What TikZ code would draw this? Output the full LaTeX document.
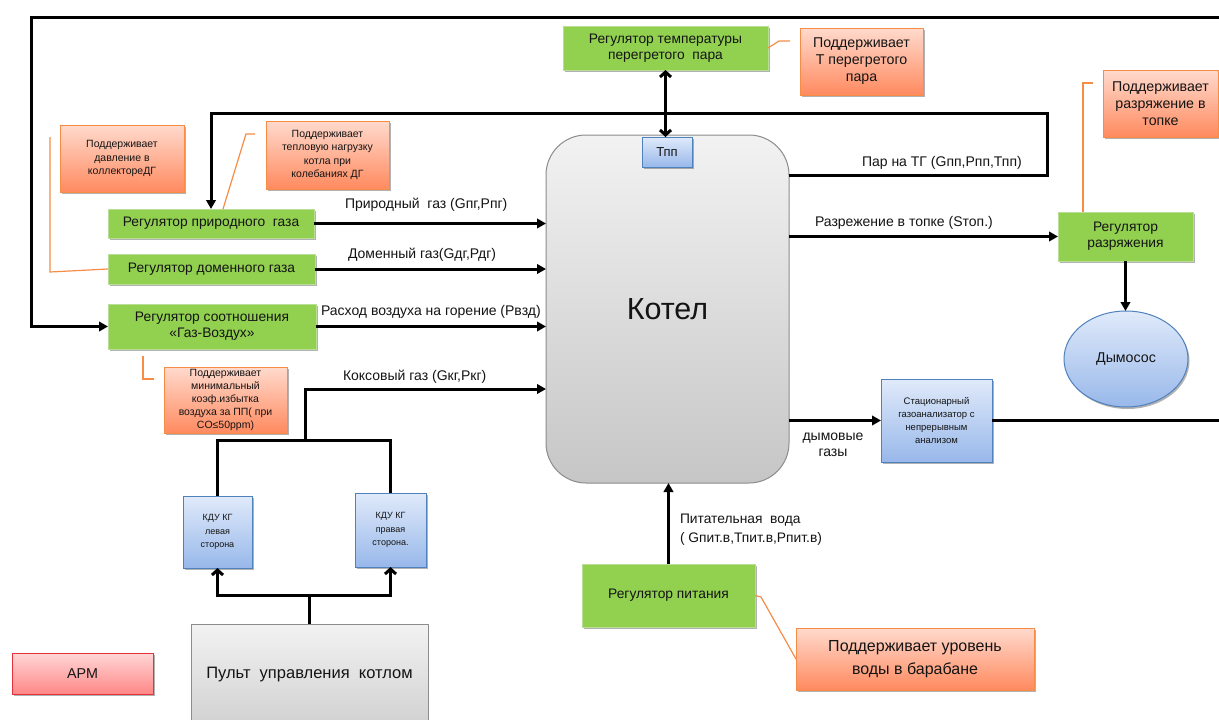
\documentclass[tikz,border=0pt]{standalone}
\usepackage{fontspec}
\setmainfont{Liberation Sans}
\usetikzlibrary{arrows.meta,shadows,shapes.geometric,calc}
\definecolor{grn}{RGB}{146,208,80}
\definecolor{grnb}{RGB}{185,222,150}
\definecolor{orb}{RGB}{247,140,70}
\definecolor{ortop}{RGB}{255,218,205}
\definecolor{orbot}{RGB}{255,138,95}
\definecolor{blb}{RGB}{79,129,189}
\definecolor{bltop}{RGB}{224,234,250}
\definecolor{blbot}{RGB}{152,184,234}
\definecolor{gytop}{RGB}{242,242,242}
\definecolor{gybot}{RGB}{198,198,198}
\definecolor{gyb}{RGB}{140,140,140}
\definecolor{rdb}{RGB}{228,50,60}
\definecolor{rdtop}{RGB}{255,214,214}
\definecolor{rdbot}{RGB}{255,135,135}
\definecolor{txt}{RGB}{20,20,20}
\begin{document}
\begin{tikzpicture}[x=1pt,y=-1pt,
  every node/.style={inner sep=0pt,outer sep=0pt,align=center,text=txt},
  sz/.style n args={2}{minimum width=#1pt,minimum height=#2pt},
  shd/.style={drop shadow={shadow xshift=1.5pt,shadow yshift=-2pt,opacity=0.3,fill=black}},
  greenbox/.style={fill=grn,draw=grnb,line width=0.7pt,shd,font=\fontsize{13.8}{16}\selectfont},
  callout/.style={draw=orb,line width=1pt,top color=ortop,bottom color=orbot,shd},
  bluebox/.style={draw=blb,line width=0.9pt,top color=bltop,bottom color=blbot,shd},
  flow/.style={line width=3pt,-{Triangle[length=9pt,width=9.5pt]}},
  wire/.style={line width=3pt},
  barb/.style={line width=3pt,-{Straight Barb[length=5pt,width=11pt]}},
  dbl/.style={line width=3pt,{Straight Barb[length=5pt,width=11pt]}-{Straight Barb[length=5pt,width=11pt]}},
  ocon/.style={draw=orb,line width=1.2pt},
  lbl/.style={font=\fontsize{14}{16}\selectfont,anchor=west}
]
\useasboundingbox[fill=white] (0,0) rectangle (1219,720);

% ---- boiler ----
\node[draw=gyb,line width=1pt,top color=gytop,bottom color=gybot,rounded corners=40pt,sz={243}{348},font=\fontsize{30.5}{36}\selectfont] (boiler) at (667.5,309) {Котел};
\node[bluebox,sz={50}{30},font=\fontsize{13}{15}\selectfont] (tpp) at (667,152) {Тпп};

% ---- regulators ----
\node[greenbox,sz={205}{44}] (tempreg) at (665.5,48) {Регулятор температуры\\перегретого\ \ пара};
\node[greenbox,sz={206}{29}] (ng) at (211,223.5) {Регулятор природного\ \ газа};
\node[greenbox,sz={207}{30}] (dg) at (211.5,269) {Регулятор доменного газа};
\node[greenbox,sz={208}{45}] (ga) at (212,326.5) {Регулятор соотношения\\«Газ-Воздух»};
\node[greenbox,sz={135}{49}] (razr) at (1125.5,236.5) {Регулятор\\разряжения};
\node[greenbox,sz={173}{63}] (pit) at (668.5,595.5) {Регулятор питания};

% ---- callouts ----
\node[callout,sz={123}{67},font=\fontsize{14.2}{17}\selectfont] (tempcall) at (861.5,61.5) {Поддерживает\\Т перегретого\\пара};
\node[callout,sz={124}{67},font=\fontsize{10.5}{13.5}\selectfont] (call1) at (122,158.5) {Поддерживает\\давление в\\коллектореДГ};
\node[callout,sz={123}{68},font=\fontsize{10.5}{13.5}\selectfont] (call2) at (327.5,155) {Поддерживает\\тепловую нагрузку\\котла при\\колебаниях ДГ};
\node[callout,sz={123}{66},font=\fontsize{10.5}{13}\selectfont] (call3) at (225.5,400) {Поддерживает\\минимальный\\коэф.избытка\\воздуха за ПП( при\\CO≤50ppm)};
\node[callout,sz={115}{67},font=\fontsize{14.2}{17}\selectfont] (callr) at (1160.5,103.5) {Поддерживает\\разряжение в\\топке};
\node[callout,sz={238}{62},font=\fontsize{16}{23}\selectfont] (pitcall) at (915,659) {Поддерживает уровень\\воды в барабане};

% ---- others ----
\node[draw=blb,line width=1pt,top color=bltop,bottom color=blbot,ellipse,sz={124}{96},shd,font=\fontsize{14.2}{16}\selectfont] (dym) at (1126,359) {Дымосос};
\node[bluebox,sz={111}{83},font=\fontsize{9.5}{12.7}\selectfont] (gasan) at (936.5,420.5) {Стационарный\\газоанализатор с\\непрерывным\\анализом};
\node[bluebox,sz={69}{72},font=\fontsize{9}{13.5}\selectfont] (kdul) at (217.5,532) {КДУ КГ\\левая\\сторона};
\node[bluebox,sz={71}{74},font=\fontsize{9}{13.5}\selectfont] (kdur) at (390.5,530) {КДУ КГ\\правая\\сторона.};
\node[draw=gyb,line width=0.8pt,top color=gytop,bottom color=gybot!80!white,sz={237}{101},font=\fontsize{16.5}{20}\selectfont] (pult) at (309.5,674.5) {Пульт\ \ управления\ \ котлом};
\node[draw=rdb,line width=1pt,top color=rdtop,bottom color=rdbot,sz={141}{41},shd,font=\fontsize{14.3}{17}\selectfont] (arm) at (82.5,673.5) {АРМ};

% ---- helper coordinates ----
\coordinate (rtop) at (1219,17);
\coordinate (tl) at (31,17);
\coordinate (y175) at (1047,175);
\coordinate (y113) at (1047,113);
\coordinate (kj) at (305,440);
\coordinate (ky) at (305,389);
\coordinate (pj) at (310,595);
\coordinate (rout) at (1219,420.5);

% ---- connectors ----
\draw[flow] (rtop) -- (tl) |- (ga.west);
\draw[flow] (boiler.east |- y175) -- (y175) -- (y113) -| (ng.north);
\draw[dbl] (tempreg.south) -- (tempreg.south |- tpp.north);
\draw[flow] (ng.east) -- (ng.east -| boiler.west);
\draw[flow] (dg.east) -- (dg.east -| boiler.west);
\draw[flow] (ga.east) -- (ga.east -| boiler.west);
\draw[wire] (kdul.north) |- (kj) -| (kdur.north);
\draw[flow] (kj) -- (ky) -- (ky -| boiler.west);
\draw[wire] (pult.north) -- (pult.north |- pj);
\draw[barb] (pj) -| (kdul.south);
\draw[barb] (pj) -| (kdur.south);
\draw[flow] (boiler.east |- razr.west) -- (razr.west);
\draw[flow] (razr.south) -- (razr.south |- dym.north);
\draw[flow] (boiler.east |- gasan.west) -- (gasan.west);
\draw[wire] (gasan.east) -- (rout);
\draw[flow] (pit.north) -- (pit.north |- boiler.south);

% ---- callout leaders ----
\coordinate (o1a) at (779,41); \coordinate (o1b) at (790,41);
\draw[ocon] (tempreg.east) -- (o1a) -- (o1b);
\coordinate (o2a) at (50,272); \coordinate (o2b) at (50,137);
\draw[ocon] (dg.west) -- (o2a) -- (o2b);
\coordinate (o3s) at (223,209); \coordinate (o3a) at (246,134); \coordinate (o3b) at (255,134);
\draw[ocon] (o3s) -- (o3a) -- (o3b);
\coordinate (o4a) at (143,356); \coordinate (o4b) at (143,379); \coordinate (o4c) at (154,379);
\draw[ocon] (o4a) -- (o4b) -- (o4c);
\coordinate (o5a) at (1083,83); \coordinate (o5b) at (1093,83);
\draw[ocon] (razr.north -| o5a) -- (o5a) -- (o5b);
\coordinate (o6a) at (761,597);
\draw[ocon] (pit.east) -- (o6a) -- (pitcall.west);

% ---- flow labels ----
\node[lbl] (l1) at (345,205) {Природный\ \ газ (Gпг,Рпг)};
\node[lbl] (l2) at (348,255) {Доменный газ(Gдг,Рдг)};
\node[lbl] (l3) at (321,312) {Расход воздуха на горение (Рвзд)};
\node[lbl] (l4) at (343,377) {Коксовый газ (Gкг,Ркг)};
\node[lbl] (l5) at (862,163) {Пар на ТГ (Gпп,Рпп,Тпп)};
\node[lbl] (l6) at (815,223) {Разрежение в топке (Sтоп.)};
\node[font=\fontsize{14}{16}\selectfont] (l7) at (833,445) {дымовые\\газы};
\node[lbl,align=left,font=\fontsize{13.8}{19}\selectfont] (l8) at (680,529.5) {Питательная\ \ вода\\( Gпит.в,Тпит.в,Рпит.в)};
\end{tikzpicture}
\end{document}
